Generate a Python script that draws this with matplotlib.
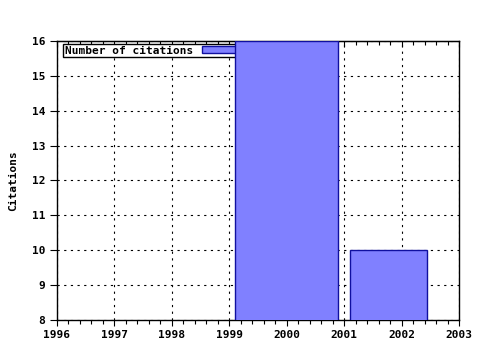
import matplotlib.pyplot as plt
from matplotlib.ticker import MultipleLocator

# bar edges (years)
bar_left = [1999.1, 2001.1]
bar_right = [2000.9, 2002.45]
citations = [16, 10]
years = [1996, 1997, 1998, 1999, 2000, 2001, 2002, 2003]

plt.rcParams['font.family'] = 'DejaVu Sans Mono'
plt.rcParams['font.weight'] = 'bold'
plt.rcParams['font.size'] = 8

fig = plt.figure(figsize=(4.8, 3.5), dpi=100)
ax = fig.add_axes([0.11875, 0.0857, 0.8375, 0.7972])

widths = [r - l for l, r in zip(bar_left, bar_right)]
ax.bar(bar_left, citations, width=widths, align='edge', bottom=0,
       color='#8080ff', edgecolor='#1010a0', linewidth=1,
       label='Number of citations', zorder=3)

ax.set_xlim(1996, 2003)
ax.set_ylim(8, 16)
ax.grid(True, which='major', color='black', linestyle=(0, (2, 4)), linewidth=0.8, zorder=1)
ax.set_axisbelow(True)
for s in ax.spines.values():
    s.set_linewidth(1)

# top axis with inward ticks, no labels
top = ax.secondary_xaxis('top')
top.set_xticks(years)
top.xaxis.set_minor_locator(MultipleLocator(0.2))
top.tick_params(which='major', direction='in', length=4, width=0.8, labeltop=False)
top.tick_params(which='minor', direction='in', length=3, width=0.8)

ax.set_xticks(years)
ax.xaxis.set_minor_locator(MultipleLocator(0.2))
ax.tick_params(axis='x', which='major', direction='out', length=4, width=0.8)
ax.tick_params(axis='x', which='minor', bottom=True, direction='out', length=3, width=0.8)
ax.tick_params(axis='y', which='major', direction='out', length=5, width=0.8)

ax.set_ylabel('Citations', fontweight='bold', labelpad=10)

leg = ax.legend(loc='upper left', bbox_to_anchor=(0.015, 0.989), borderaxespad=0,
                markerfirst=False, fancybox=False,
                framealpha=1, edgecolor='black', borderpad=0.15,
                handlelength=3.3, handleheight=0.55,
                handletextpad=0.8)
leg.get_frame().set_linewidth(1)
leg.set_zorder(2)

plt.savefig('out.png', dpi=100)
